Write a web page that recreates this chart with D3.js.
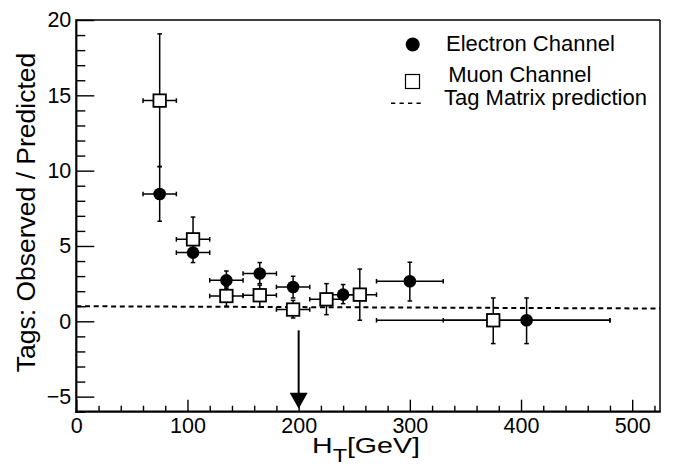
<!DOCTYPE html>
<html>
<head>
<meta charset="utf-8">
<script src="https://cdn.jsdelivr.net/npm/d3@7"></script>
<style>
  html, body { margin: 0; padding: 0; background: #fff; }
  svg { display: block; font-family: "Liberation Sans", Arial, Helvetica, sans-serif; }
</style>
</head>
<body>
<svg id="chart" width="673" height="466"></svg>
<script>
// ---- Data ----
const electronHT      = [75, 105, 135, 165, 195, 240, 300, 405];
const electronRatio   = [8.45, 4.56, 2.72, 3.17, 2.28, 1.77, 2.66, 0.07];
const electronRatioLo = [6.64, 3.90, 2.20, 2.50, 1.55, 1.17, 1.35, -1.48];
const electronRatioHi = [10.27, 5.20, 3.34, 3.90, 2.99, 2.44, 3.92, 1.55];
const electronHTLo    = [60, 90, 120, 150, 180, 225, 270, 330];
const electronHTHi    = [90, 120, 150, 180, 210, 255, 330, 480];

const muonHT      = [75, 105, 135, 165, 195, 225, 255, 375];
const muonRatio   = [14.65, 5.44, 1.68, 1.73, 0.78, 1.46, 1.77, 0.07];
const muonRatioLo = [10.27, 4.70, 1.00, 0.95, 0.22, 0.44, 0.07, -1.48];
const muonRatioHi = [19.08, 6.92, 2.30, 2.40, 1.39, 2.50, 3.47, 1.55];
const muonHTLo    = [60, 90, 120, 150, 180, 210, 240, 270];
const muonHTHi    = [90, 120, 150, 180, 210, 240, 270, 480];

const predictionHT    = [0, 525];
const predictionRatio = [1.0, 0.85];

const arrowHT   = 200;
const arrowFrom = -0.6;
const arrowTo   = -5.8;

const xMajorTicks = [0, 100, 200, 300, 400, 500];
const yMajorTicks = [-5, 0, 5, 10, 15, 20];
const xDomain = [0, 525];
const yDomain = [-6, 20];

const legendLabels = ["Electron Channel", "Muon Channel", "Tag Matrix prediction"];
const xTitleMain = "H", xTitleSub = "T", xTitleUnit = "[GeV]";
const yTitle = "Tags: Observed / Predicted";

// ---- Layout ----
const L = 76.3, R = 660, T = 20, B = 411.7;
const svg = d3.select("#chart");
const x = d3.scaleLinear().domain(xDomain).range([L, R]);
const y = d3.scaleLinear().domain(yDomain).range([B, T]);

const xMinor = d3.range(0, 521, 20).filter(v => v % 100 !== 0);
const yMinor = d3.range(-6, 21, 1).filter(v => v % 5 !== 0);

// Minor ticks
svg.append("g").attr("transform", `translate(0,${B})`)
  .call(d3.axisBottom(x).tickValues(xMinor).tickSize(-6).tickFormat(""))
  .call(g => g.select(".domain").remove())
  .call(g => g.selectAll("line").attr("stroke-width", 1.4));
svg.append("g").attr("transform", `translate(${L},0)`)
  .call(d3.axisLeft(y).tickValues(yMinor).tickSize(-9).tickFormat(""))
  .call(g => g.select(".domain").remove())
  .call(g => g.selectAll("line").attr("stroke-width", 1.4));

// Major ticks with labels
svg.append("g").attr("transform", `translate(0,${B})`)
  .call(d3.axisBottom(x).tickValues(xMajorTicks).tickSize(-12).tickPadding(6).tickFormat(d3.format("d")))
  .call(g => g.select(".domain").remove())
  .call(g => g.selectAll("line").attr("stroke-width", 1.4))
  .call(g => g.selectAll("text").attr("font-size", 21.5).attr("fill", "#000")
      .attr("font-family", '"Liberation Sans", Arial, sans-serif'));
svg.append("g").attr("transform", `translate(${L},0)`)
  .call(d3.axisLeft(y).tickValues(yMajorTicks).tickSize(-18).tickPadding(5).tickFormat(d3.format("d")))
  .call(g => g.select(".domain").remove())
  .call(g => g.selectAll("line").attr("stroke-width", 1.4))
  .call(g => g.selectAll("text").attr("font-size", 21.5).attr("fill", "#000")
      .attr("font-family", '"Liberation Sans", Arial, sans-serif'));

// Frame
svg.append("line").attr("x1", L).attr("x2", R).attr("y1", T).attr("y2", T).attr("stroke", "#000").attr("stroke-width", 1.5);
svg.append("line").attr("x1", R).attr("x2", R).attr("y1", T).attr("y2", B).attr("stroke", "#000").attr("stroke-width", 1.5);
svg.append("line").attr("x1", L).attr("x2", L).attr("y1", T - 0.75).attr("y2", B + 1).attr("stroke", "#000").attr("stroke-width", 2.2);
svg.append("line").attr("x1", L - 1).attr("x2", R + 0.75).attr("y1", B).attr("y2", B).attr("stroke", "#000").attr("stroke-width", 2.2);

// Prediction dashed line
svg.append("path")
  .attr("d", d3.line().x(d => x(d[0])).y(d => y(d[1]))(predictionHT.map((h, i) => [h, predictionRatio[i]])))
  .attr("fill", "none").attr("stroke", "#000").attr("stroke-width", 2).attr("stroke-dasharray", "5,3.7");

// Arrow
svg.append("line").attr("x1", x(arrowHT)).attr("x2", x(arrowHT))
  .attr("y1", y(arrowFrom)).attr("y2", y(arrowTo) - 14)
  .attr("stroke", "#000").attr("stroke-width", 2);
svg.append("path")
  .attr("d", `M${x(arrowHT) - 9},${y(arrowTo) - 16} L${x(arrowHT) + 9},${y(arrowTo) - 16} L${x(arrowHT)},${y(arrowTo)} Z`)
  .attr("fill", "#000");

// Error bars helper
function drawSeries(hx, hy, ylo, yhi, xlo, xhi, marker) {
  const data = hx.map((h, i) => ({h, r: hy[i], ylo: ylo[i], yhi: yhi[i], xlo: xlo[i], xhi: xhi[i]}));
  const g = svg.append("g").attr("stroke", "#000").attr("stroke-width", 1.5);
  const cap = 2.3;
  data.forEach(d => {
    g.append("line").attr("x1", x(d.h)).attr("x2", x(d.h)).attr("y1", y(d.ylo)).attr("y2", y(d.yhi));
    g.append("line").attr("x1", x(d.h) - cap).attr("x2", x(d.h) + cap).attr("y1", y(d.ylo)).attr("y2", y(d.ylo));
    g.append("line").attr("x1", x(d.h) - cap).attr("x2", x(d.h) + cap).attr("y1", y(d.yhi)).attr("y2", y(d.yhi));
    g.append("line").attr("x1", x(d.xlo)).attr("x2", x(d.xhi)).attr("y1", y(d.r)).attr("y2", y(d.r));
    g.append("line").attr("x1", x(d.xlo)).attr("x2", x(d.xlo)).attr("y1", y(d.r) - cap).attr("y2", y(d.r) + cap);
    g.append("line").attr("x1", x(d.xhi)).attr("x2", x(d.xhi)).attr("y1", y(d.r) - cap).attr("y2", y(d.r) + cap);
  });
  const m = svg.append("g");
  if (marker === "circle") {
    m.selectAll("circle").data(data).join("circle")
      .attr("cx", d => x(d.h)).attr("cy", d => y(d.r)).attr("r", 6.3).attr("fill", "#000");
  } else {
    const s = 12.5;
    m.selectAll("rect").data(data).join("rect")
      .attr("x", d => x(d.h) - s / 2).attr("y", d => y(d.r) - s / 2)
      .attr("width", s).attr("height", s)
      .attr("fill", "#fff").attr("stroke", "#000").attr("stroke-width", 1.8);
  }
}
drawSeries(electronHT, electronRatio, electronRatioLo, electronRatioHi, electronHTLo, electronHTHi, "circle");
drawSeries(muonHT, muonRatio, muonRatioLo, muonRatioHi, muonHTLo, muonHTHi, "square");

// Legend
const lg = svg.append("g").attr("font-size", 22).attr("fill", "#000");
lg.append("circle").attr("cx", 412.7).attr("cy", 44.5).attr("r", 7).attr("fill", "#000");
lg.append("text").attr("x", 446).attr("y", 50.5).text(legendLabels[0]);
lg.append("rect").attr("x", 405.5).attr("y", 74.5).attr("width", 14).attr("height", 14)
  .attr("fill", "#fff").attr("stroke", "#000").attr("stroke-width", 1.2);
lg.append("text").attr("x", 448.3).attr("y", 81.7).text(legendLabels[1]);
lg.append("line").attr("x1", 391).attr("x2", 422).attr("y1", 103.3).attr("y2", 103.3)
  .attr("stroke", "#000").attr("stroke-width", 1.5).attr("stroke-dasharray", "4.3,4.2");
lg.append("text").attr("x", 444).attr("y", 104.5).text(legendLabels[2]);

// Axis titles
const xt = svg.append("text").attr("x", 312).attr("y", 452.5).attr("font-size", 22).attr("fill", "#000")
  .attr("textLength", 108).attr("lengthAdjust", "spacingAndGlyphs");
xt.append("tspan").text(xTitleMain);
xt.append("tspan").attr("font-size", 18).attr("dy", 9).text(xTitleSub);
xt.append("tspan").attr("dy", -9).text(xTitleUnit);

svg.append("text")
  .attr("transform", "translate(35,212.5) rotate(-90)")
  .attr("text-anchor", "middle").attr("font-size", 26.5).attr("fill", "#000")
  .text(yTitle);
</script>
</body>
</html>
